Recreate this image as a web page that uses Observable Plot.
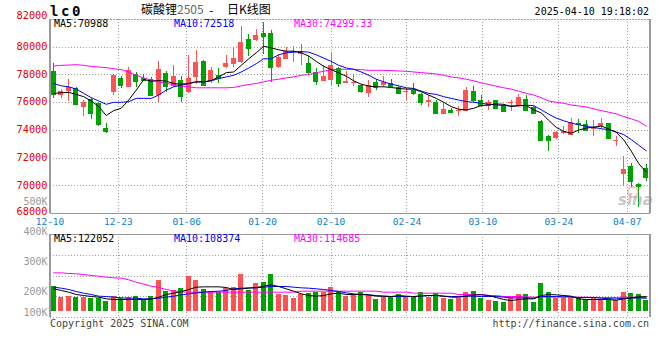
<!DOCTYPE html>
<html><head><meta charset="utf-8">
<script src="https://cdn.jsdelivr.net/npm/d3@7"></script>
<script src="https://cdn.jsdelivr.net/npm/@observablehq/plot@0.6"></script>
<style>
body{margin:0;background:#fff;}
#chart{position:relative;width:660px;height:360px;background:#fff;overflow:hidden;font-family:"DejaVu Sans Mono",monospace;}
#chart svg{position:absolute;left:0;top:0;}
.t{position:absolute;white-space:pre;line-height:1;font-size:10px;}
</style></head><body><div id="chart"></div>
<script>
// ---- data ----
const dateLabels = ["12-10","12-23","01-06","01-20","02-10","02-24","03-10","03-24","04-07"];
const dateIdx    = [0,9,18,28,37,47,57,67,76];
const priceTicks = [82000,80000,78000,76000,74000,72000,70000,68000];
const volTickLabels = ["500K","400K","300K","200K","100K"];
const volTickValues = [500000,400000,300000,200000,100000];

const open = [78262,76500,76786,77048,75643,76214,75905,74119,76714,77762,
77071,78024,77738,77690,76500,78119,77143,77619,76714,77786,
78976,77500,77976,78571,78738,78929,80548,80476,80976,81024,
78524,79119,79595,79476,78810,78143,77500,77619,78452,77357,
77381,77262,76643,77452,77214,77381,77095,76714,76881,76571,
76024,76024,75143,75405,75357,75357,76833,76119,75714,76167,
75690,75905,75714,76262,75667,74643,73548,73405,73786,73643,
74500,74452,74048,74286,74476,73167,70833,71381,70095,71262];
const high = [78810,76976,77690,77100,76190,76310,76000,74476,78048,77905,
78524,78167,78024,77810,78976,78214,78690,77857,79405,79762,
79048,78571,78500,79405,80000,81476,80952,81310,81786,81190,
79476,79952,80048,80190,79357,78500,78690,79524,78571,78214,
78024,77310,77619,77667,77905,77667,77143,77024,77381,76667,
76548,76119,75952,75595,75714,77071,77143,76548,76119,76190,
75833,76190,76619,76548,75714,74690,73643,73929,74286,74833,
74810,74690,74690,74881,74524,73571,72143,71595,70167,71548];
const low = [76310,76310,76071,75800,75000,74786,74286,73762,76500,77048,
77071,77071,77500,76452,76024,76738,77100,76000,76667,77310,
77143,77381,77381,78452,78571,78857,79357,80405,79452,77429,
78452,79119,78929,78690,78024,77214,77500,77262,77071,77357,
77143,76667,76405,76857,77071,77071,76643,76190,76500,75786,
75643,75119,75143,75190,75000,75357,76024,75643,75405,75548,
75333,75357,75667,75357,75190,73167,72452,73333,73690,73643,
73738,73929,73571,74167,73333,72857,70000,69881,68452,70286];
const close = [76619,76786,77119,75833,76024,75214,74405,73929,77976,77214,
78286,77500,77619,76500,78405,77143,77905,76429,77738,78881,
77214,78333,77738,78810,79214,80310,79929,80833,80786,78571,
79238,79714,79714,79714,78143,77500,77905,78690,77381,77548,
77429,76786,77262,77071,77429,77190,76643,76833,76643,76000,
76167,75190,75500,75286,75429,76905,76119,75786,76000,75595,
75357,76024,76357,75429,75190,73262,73286,73857,73929,74595,
74452,73976,74238,74476,73381,73262,71143,70286,69929,70595];

const ma5 = [76667,76714,76738,76595,76428,76119,75714,75071,75428,75595,
76190,76905,77667,77548,77595,77548,77381,77333,77381,77500,
77500,77595,77857,78167,78214,78690,79167,79595,80071,79952,
79810,79714,79714,79595,79357,78976,78619,78381,78143,77905,
77571,77333,77190,77143,77143,77095,77024,76976,76976,76786,
76548,76309,76024,75714,75524,75476,75595,75786,75833,75905,
75881,75714,75786,75786,75476,75262,74714,74214,73928,73786,
74024,74167,74238,74309,74095,73857,73309,72500,71595,70988];
const ma10 = [77381,77214,77143,76976,76667,76357,76119,75881,76024,76024,
76071,76309,76309,76309,76548,76905,77143,77262,77381,77500,
77500,77571,77738,77857,77976,78214,78500,78810,79167,79167,
79452,79595,79643,79690,79643,79452,79214,78976,78690,78500,
78405,78214,77976,77690,77500,77333,77214,77071,77024,76833,
76667,76595,76428,76309,76190,76071,76024,75952,75881,75833,
75786,75762,75786,75809,75786,75476,75167,74881,74690,74524,
74405,74286,74214,74119,74047,73881,73690,73333,72928,72518];
const ma30 = [78643,78690,78714,78738,78690,78619,78571,78524,78452,78381,
78214,77976,77786,77619,77500,77381,77310,77190,77143,77071,
77071,77071,77071,77071,77095,77214,77310,77381,77500,77619,
77690,77786,77857,77976,78024,78167,78262,78381,78405,78405,
78405,78381,78333,78333,78333,78310,78286,78262,78214,78167,
78119,78071,77976,77857,77786,77690,77571,77428,77310,77190,
77071,76976,76833,76667,76548,76357,76119,76024,75952,75833,
75762,75690,75548,75428,75309,75190,75000,74833,74643,74299.33];

const vol = [204900,117500,125700,117500,117500,103800,103800,84700,125700,103800,
117500,122900,98400,122900,254100,163900,172100,191200,286900,254100,
180300,163900,153000,191200,199400,303300,172100,229500,235000,303300,
139300,131100,109300,139300,144800,158500,158500,199400,166700,125700,
136600,158500,131100,101100,117500,117500,139300,112000,125700,153000,
117500,144800,109300,101100,109300,158500,166700,109300,90200,82000,
76500,117500,139300,139300,76500,232200,158500,103800,117500,117500,
109300,98400,109300,90200,117500,87400,158500,147500,139300,90200];
const vma5 = [185800,172100,158500,139300,131100,122900,117500,103800,98400,98400,
98400,98400,98400,101100,117500,139300,150300,163900,180300,199400,
202200,202200,202200,196700,180300,185800,191200,196700,207600,218600,
204900,185800,166700,144800,131100,125700,131100,144800,150300,139300,
139300,139300,136600,125700,125700,122900,131100,125700,122900,128400,
131100,131100,125700,117500,117500,125700,136600,136600,131100,114700,
98400,90200,98400,103800,103800,131100,139300,136600,131100,125700,
103800,98400,98400,98400,98400,92900,103800,112000,120200,122052];
const vma10 = [199400,191200,180300,163900,150300,139300,125700,122900,117500,112000,
109300,109300,103800,103800,109300,117500,125700,136600,144800,153000,
158500,163900,166700,172100,185800,191200,194000,194000,199400,204900,
204900,204900,199400,194000,191200,185800,180300,172100,163900,153000,
144800,139300,136600,131100,125700,122900,122900,122900,122900,125700,
131100,131100,125700,122900,122900,125700,125700,122900,122900,122900,
117500,112000,112000,112000,109300,122900,122900,122900,125700,120200,
114700,114700,114700,109300,103800,103800,109300,109300,112000,108374];
const vma30 = [316900,316900,311400,308700,303300,295100,289600,281400,275900,273200,
259500,240400,224000,207600,196700,180300,169400,161200,158500,158500,
158500,158500,158500,158500,158500,158500,158500,158500,158500,158500,
158500,158500,158500,166700,166700,166700,166700,166700,166700,166700,
166700,166700,166700,166700,158500,158500,158500,158500,150300,150300,
150300,150300,150300,150300,139300,139300,139300,139300,131100,131100,
122900,122900,122900,120200,117500,117500,117500,117500,117500,117500,
117500,117500,114700,114700,114700,114700,117500,117500,117500,114685];

// ---- style ----
const RED = "#ff5252", GREEN = "#00a200";
const GRID = "#a0a0a0", BORDER = "#999";
const FONT = "DejaVu Sans Mono";
const N = close.length;
const W = 0.34;                      // half body width, in candle units
const xDomain = [-0.5, N - 0.5];
const volDomain = [-49000, 631000];  // volume panel limits
const volLabelDomain = [130000, 500000]; // Sina's label axis (lowest label clamped to the baseline)
const candles = d3.range(N).map(i => ({i, o: open[i], h: high[i], l: low[i], c: close[i], v: vol[i],
  col: close[i] >= open[i] ? RED : GREEN}));
// Sina places date grid lines at left + k*width/(N-1)
const dateTicks = dateIdx.map((i, k) => ({pos: i * N / (N - 1) - 0.5, label: dateLabels[k]}));
const line = (arr, color) => Plot.line(arr, {x: (d, i) => i, y: d => d, stroke: color, strokeWidth: 1});
const priceLabel = (ticks, dy) => Plot.text(ticks, {y: d => d, text: d => String(d), frameAnchor: "left",
  textAnchor: "end", lineAnchor: "middle", dx: -2.5, dy, fill: "#e60000", fontSize: 10.3, fontFamily: FONT});

const chart = document.getElementById("chart");

// volume panel
const volPlot = Plot.plot({
  width: 660, height: 360, marginTop: 234, marginBottom: 43, marginLeft: 49.5, marginRight: 10.5,
  x: {domain: xDomain, axis: null},
  y: {domain: volDomain, axis: null},
  color: {type: "identity"},
  style: {background: "transparent", overflow: "visible"},
  marks: [
    Plot.ruleY(d3.range(1, 4).map(k => volDomain[0] + k * (volDomain[1] - volDomain[0]) / 4), {stroke: GRID, strokeDasharray: "1,2", shapeRendering: "crispEdges"}),
    Plot.ruleX(dateTicks.slice(1), {x: "pos", stroke: GRID, strokeDasharray: "1,2", shapeRendering: "crispEdges"}),
    Plot.ruleY([volDomain[0]], {stroke: GRID, strokeDasharray: "1,2", shapeRendering: "crispEdges"}),
    Plot.rect(candles, {x1: d => d.i - W, x2: d => d.i + W, y1: 0, y2: "v", fill: "col", shapeRendering: "crispEdges"}),
    line(vma30, "#ff00ff"), line(vma10, "#0000ff"), line(vma5, "#000"),
    Plot.ruleY([volDomain[1]], {stroke: BORDER, strokeWidth: 1.5, shapeRendering: "crispEdges"}),
    Plot.ruleX(xDomain, {stroke: BORDER, strokeWidth: 1.5, shapeRendering: "crispEdges"})
  ]
});
chart.appendChild(volPlot);

// price panel
const mainPlot = Plot.plot({
  width: 660, height: 360, marginTop: 19, marginBottom: 147, marginLeft: 49.5, marginRight: 10.5,
  x: {domain: xDomain, axis: null},
  y: {domain: [priceTicks[priceTicks.length - 1], priceTicks[0]], axis: null},
  color: {type: "identity"},
  style: {background: "transparent", overflow: "visible"},
  marks: [
    Plot.ruleY(priceTicks.slice(1, -1), {stroke: GRID, strokeDasharray: "1,2", shapeRendering: "crispEdges"}),
    Plot.ruleX(dateTicks.slice(1), {x: "pos", stroke: GRID, strokeDasharray: "1,2", shapeRendering: "crispEdges"}),
    Plot.ruleY([priceTicks[0]], {stroke: GRID, strokeDasharray: "2,1", shapeRendering: "crispEdges"}),
    Plot.ruleY([priceTicks[priceTicks.length - 1]], {stroke: BORDER, strokeWidth: 1.5, shapeRendering: "crispEdges"}),
    Plot.ruleX(xDomain, {stroke: BORDER, strokeWidth: 1.5, shapeRendering: "crispEdges"}),
    Plot.ruleX(candles, {x: "i", y1: "l", y2: "h", stroke: "col", shapeRendering: "crispEdges"}),
    Plot.rect(candles, {x1: d => d.i - W, x2: d => d.i + W, y1: "o", y2: "c", fill: "col", shapeRendering: "crispEdges"}),
    Plot.ruleY(candles, {y: "c", x1: d => d.i - W, x2: d => d.i + W, stroke: "col", shapeRendering: "crispEdges"}),
    line(ma30, "#ff00ff"), line(ma10, "#0000ff"), line(ma5, "#000"),
    priceLabel(priceTicks.slice(0, 1), -3.5),
    priceLabel(priceTicks.slice(1, -1), -0.5),
    priceLabel(priceTicks.slice(-1), -1.5),
    Plot.text(dateTicks, {x: "pos", text: "label", frameAnchor: "bottom", lineAnchor: "middle", dy: 8,
      fill: "#0b80d0", fontSize: 9.5, fontFamily: FONT})
  ]
});
chart.appendChild(mainPlot);

// volume axis labels (Sina's own label placement)
const volLabelPlot = Plot.plot({
  width: 48, height: 360, marginTop: 200, marginBottom: 48.5, marginLeft: 0, marginRight: 0,
  y: {domain: volLabelDomain, clamp: true, axis: null},
  style: {background: "transparent", overflow: "visible"},
  marks: [
    Plot.text(volTickValues, {y: d => d, text: (d, k) => volTickLabels[k], frameAnchor: "right", textAnchor: "end", dx: -1, dy: 1,
      lineAnchor: "middle", fill: "#9a9a9a", fontSize: 10, fontFamily: FONT})
  ]
});
chart.appendChild(volLabelPlot);

// ---- texts ----
function addText(html, css) {
  const d = document.createElement("div");
  d.className = "t"; d.innerHTML = html; Object.assign(d.style, css); chart.appendChild(d);
}
const fmt = v => String(v);
addText("lc0", {left: "50px", top: "4px", fontSize: "14px", fontWeight: "bold", letterSpacing: "2.6px", color: "#000"});
addText('碳酸锂<span style="color:#666">2505</span>', {left: "141px", top: "3px", fontSize: "12px", fontFamily: "'Noto Sans CJK SC'", color: "#000"});
addText("-", {left: "208px", top: "5px", fontSize: "11px", color: "#000"});
addText("日K线图", {left: "227px", top: "3px", fontSize: "12px", fontFamily: "'Noto Sans CJK SC'", color: "#000"});
addText("2025-04-10 19:18:02", {right: "11px", top: "7px", color: "#000"});
addText("MA5:" + fmt(ma5[N - 1]), {left: "54px", top: "19px", color: "#000"});
addText("MA10:" + fmt(ma10[N - 1]), {left: "174px", top: "19px", color: "#0000ff"});
addText("MA30:" + fmt(ma30[N - 1]), {left: "294px", top: "19px", color: "#ff00ff"});
addText("MA5:" + fmt(vma5[N - 1]), {left: "54px", top: "234px", color: "#000"});
addText("MA10:" + fmt(vma10[N - 1]), {left: "174px", top: "234px", color: "#0000ff"});
addText("MA30:" + fmt(vma30[N - 1]), {left: "294px", top: "234px", color: "#ff00ff"});
addText("Copyright 2025 SINA.COM", {left: "50px", top: "319px", color: "#444"});
addText("http://finance.sina.com.cn", {right: "11px", top: "319px", color: "#444"});
addText("sina", {left: "618px", top: "193px", fontSize: "15px", fontWeight: "bold", fontStyle: "italic",
  fontFamily: "'DejaVu Sans'", color: "rgba(150,150,150,0.55)"});
addText("", {left: "627px", top: "186px", width: "8px", height: "8px", border: "2px solid rgba(240,120,120,0.45)", borderRadius: "50%"});
</script></body></html>
